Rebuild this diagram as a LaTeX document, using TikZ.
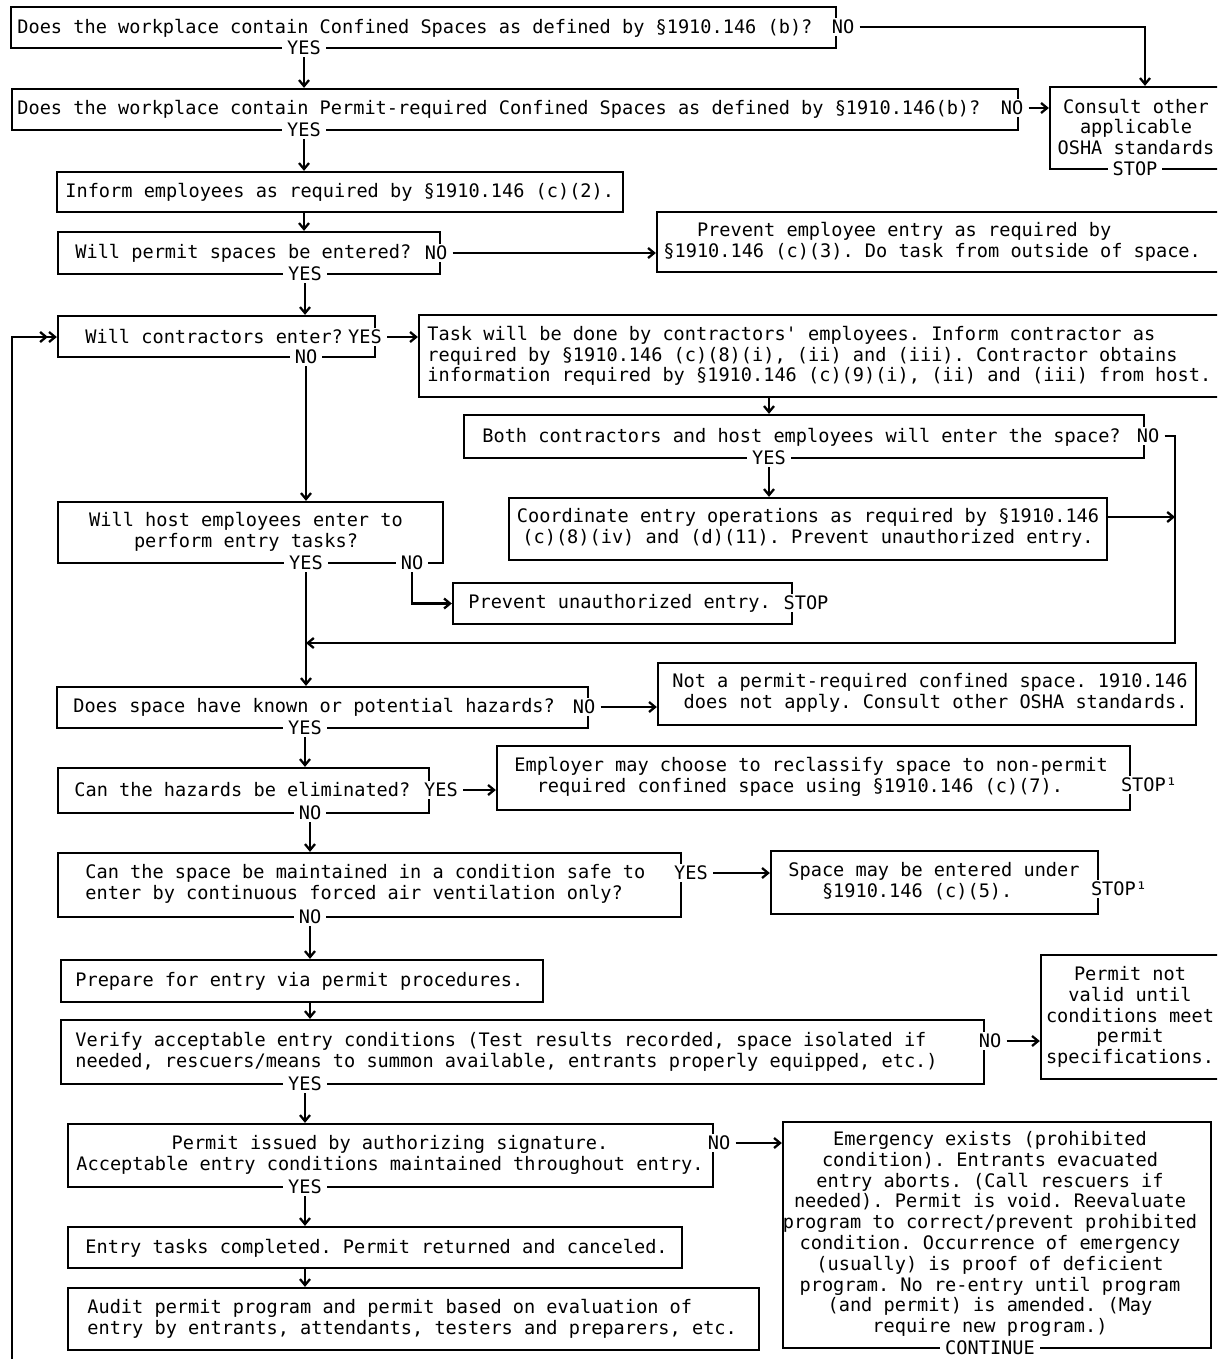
\documentclass[tikz,border=0pt]{standalone}
\usepackage{fontspec}
\newfontfamily\monofnt{DejaVu Sans Mono}
\usetikzlibrary{fit,arrows.meta}
\definecolor{paper}{RGB}{255,255,255}
\begin{document}
\frenchspacing
\begin{tikzpicture}[x=0.5pt,y=-0.5pt,
  every node/.style={font=\monofnt\frenchspacing\fontsize{9.3}{10.4}\selectfont},
  box/.style={draw, line width=1.15pt, inner sep=0pt},
  txt/.style={inner sep=0pt, align=left, anchor=west},
  ctxt/.style={inner sep=0pt, align=center},
  lab/.style={fill=paper, inner xsep=2.5pt, inner ysep=1pt},
  arr/.style={line width=1.15pt, -{Straight Barb[length=3pt,width=5pt]}},
  arrtwo/.style={line width=1.15pt, -{Straight Barb[length=3pt,width=5pt]Straight Barb[length=3pt,width=5pt]}},
]
\useasboundingbox (0,0) rectangle (1217,1359);
\fill[paper] (0,0) rectangle (1217,1359);
\clip (0,0) rectangle (1217,1359);

% ---------- boxes ----------
\node[box, fit={(11,7) (836,48)}] (A) {};
\node[box, fit={(12,89) (1018,130)}] (B) {};
\node[box, fit={(1050,87) (1240,169)}] (K) {};
\node[box, fit={(57,172) (623,212)}] (C) {};
\node[box, fit={(58,232) (440,274)}] (D) {};
\node[box, fit={(657,212) (1240,272)}] (E) {};
\node[box, fit={(58,316) (375,357)}] (F) {};
\node[box, fit={(419,315) (1240,397)}] (G) {};
\node[box, fit={(464,415) (1144,458)}] (H) {};
\node[box, fit={(509,498) (1107,560)}] (I) {};
\node[box, fit={(58,502) (443,563)}] (J) {};
\node[box, fit={(453,583) (792,624)}] (Kb) {};
\node[box, fit={(57,687) (588,728)}] (L) {};
\node[box, fit={(658,663) (1196,725)}] (M) {};
\node[box, fit={(58,768) (429,813)}] (N) {};
\node[box, fit={(497,746) (1130,810)}] (O) {};
\node[box, fit={(58,853) (681,917)}] (P) {};
\node[box, fit={(771,851) (1098,914)}] (Q) {};
\node[box, fit={(61,960) (543,1002)}] (R) {};
\node[box, fit={(61,1020) (984,1084)}] (S) {};
\node[box, fit={(1041,955) (1240,1079)}] (T) {};
\node[box, fit={(68,1124) (713,1187)}] (U) {};
\node[box, fit={(783,1122) (1211,1348)}] (V) {};
\node[box, fit={(68,1227) (682,1268)}] (W) {};
\node[box, fit={(68,1288) (759,1350)}] (X) {};

% ---------- texts ----------
\node[txt] (At) at (17,28) {Does the workplace contain Confined Spaces as defined by §1910.146 (b)?};
\node[txt] (Bt) at (17,109) {Does the workplace contain Permit-required Confined Spaces as defined by §1910.146(b)?};
\node[ctxt] (Kt) at (1136,127) {Consult other\\applicable\\OSHA standards};
\node[txt] (Ct) at (65,192) {Inform employees as required by §1910.146 (c)(2).};
\node[txt] (Dt) at (75,253) {Will permit spaces be entered?};
\node[txt] (Et) at (663,242) {\hphantom{xxx}Prevent employee entry as required by\\§1910.146 (c)(3). Do task from outside of space.};
\node[txt] (Ft) at (85,337) {Will contractors enter?};
\node[txt] (Gt) at (427,356) {Task will be done by contractors' employees. Inform contractor as\\required by §1910.146 (c)(8)(i), (ii) and (iii). Contractor obtains\\information required by §1910.146 (c)(9)(i), (ii) and (iii) from host.};
\node[txt] (Ht) at (482,437) {Both contractors and host employees will enter the space?};
\node[ctxt] (It) at (808,528) {Coordinate entry operations as required by §1910.146\\(c)(8)(iv) and (d)(11). Prevent unauthorized entry.};
\node[ctxt] (Jt) at (246,532) {Will host employees enter to\\perform entry tasks?};
\node[txt] (Kbt) at (468,603) {Prevent unauthorized entry.};
\node[txt] (Lt) at (73,707) {Does space have known or potential hazards?};
\node[txt] (Mt) at (672,693) {Not a permit-required confined space. 1910.146\\\hphantom{x}does not apply. Consult other OSHA standards.};
\node[txt] (Nt) at (74,790) {Can the hazards be eliminated?};
\node[txt] (Ot) at (514,777) {Employer may choose to reclassify space to non-permit\\\hphantom{xx}required confined space using §1910.146 (c)(7).};
\node[txt] (Pt) at (85,884) {Can the space be maintained in a condition safe to\\enter by continuous forced air ventilation only?};
\node[txt] (Qt) at (788,881) {Space may be entered under\\\hphantom{xxx}§1910.146 (c)(5).};
\node[txt] (Rt) at (75,981) {Prepare for entry via permit procedures.};
\node[txt] (St) at (75,1052) {Verify acceptable entry conditions (Test results recorded, space isolated if\\needed, rescuers/means to summon available, entrants properly equipped, etc.)};
\node[ctxt] (Tt) at (1130,1017) {Permit not\\valid until\\conditions meet\\permit\\specifications.};
\node[ctxt] (Ut) at (390,1155) {Permit issued by authorizing signature.\\Acceptable entry conditions maintained throughout entry.};
\node[ctxt] (Vt) at (990,1234) {Emergency exists (prohibited\\condition). Entrants evacuated\\entry aborts. (Call rescuers if\\needed). Permit is void. Reevaluate\\program to correct/prevent prohibited\\condition. Occurrence of emergency\\(usually) is proof of deficient\\program. No re-entry until program\\(and permit) is amended. (May\\require new program.)};
\node[txt] (Wt) at (85,1248) {Entry tasks completed. Permit returned and canceled.};
\node[txt] (Xt) at (87,1319) {Audit permit program and permit based on evaluation of\\entry by entrants, attendants, testers and preparers, etc.};

% ---------- labels on borders ----------
\node[lab] (Ay) at (304,48) {YES};
\node[lab] (An) at (843,27) {NO};
\node[lab] (By) at (304,130) {YES};
\node[lab] (Bn) at (1012,108) {NO};
\node[lab] (Ks) at (1135,169) {STOP};
\node[lab] (Dy) at (305,274) {YES};
\node[lab] (Dn) at (436,253) {NO};
\node[lab] (Fy) at (365,337) {YES};
\node[lab] (Fn) at (306,357) {NO};
\node[lab] (Hy) at (769,458) {YES};
\node[lab] (Hn) at (1148,436) {NO};
\node[lab] (Jy) at (306,563) {YES};
\node[lab] (Jn) at (412,563) {NO};
\node[lab] (Kbs) at (806,603) {STOP};
\node[lab] (Ly) at (305,728) {YES};
\node[lab] (Ln) at (584,707) {NO};
\node[lab] (Ny) at (441,790) {YES};
\node[lab] (Nn) at (310,813) {NO};
\node[lab] (Os) at (1149,785) {STOP¹};
\node[lab] (Py) at (691,873) {YES};
\node[lab] (Pn) at (310,917) {NO};
\node[lab] (Qs) at (1119,889) {STOP¹};
\node[lab] (Sy) at (305,1084) {YES};
\node[lab] (Sn) at (990,1041) {NO};
\node[lab] (Uy) at (305,1187) {YES};
\node[lab] (Un) at (719,1143) {NO};
\node[lab] (Vc) at (990,1348) {CONTINUE};

% ---------- helper coordinates ----------
\coordinate (hr) at (1175,436);
\coordinate (hb) at (1175,643);
\coordinate (ir) at (1175,517);
\coordinate (lpb) at (12,1370);
\coordinate (lpt) at (12,337);

% ---------- connectors ----------
\draw[arr] (Ay.south) -- (Ay.south |- B.north);
\draw[arr] (An.east) -- (An.east -| K.north) -- (K.north);
\draw[arr] (By.south) -- (By.south |- C.north);
\draw[arr] (Bn.east) -- (Bn.east -| K.west);
\draw[arr] (By |- C.south) -- (By |- D.north);
\draw[arr] (Dy.south) -- (Dy.south |- F.north);
\draw[arr] (Dn.east) -- (Dn.east -| E.west);
\draw[arr] (Fy.east) -- (Fy.east -| G.west);
\draw[arr] (Fn.south) -- (Fn.south |- J.north);
\draw[arr] (Hy |- G.south) -- (Hy |- H.north);
\draw[arr] (Hy.south) -- (Hy.south |- I.north);
\draw[arr] (Hn.east) -- (hr) -- (hb) -- (hb -| Jy);
\draw[arr] (ir -| I.east) -- (ir);
\draw[arr] (Jy.south) -- (Jy.south |- L.north);
\draw[arr] (Jn.south) -- (Jn.south |- Kb.west) -- (Kb.west);
\draw[arr] (Ly.south) -- (Ly.south |- N.north);
\draw[arr] (Ln.east) -- (Ln.east -| M.west);
\draw[arr] (Ny.east) -- (Ny.east -| O.west);
\draw[arr] (Nn.south) -- (Nn.south |- P.north);
\draw[arr] (Py.east) -- (Py.east -| Q.west);
\draw[arr] (Pn.south) -- (Pn.south |- R.north);
\draw[arr] (Pn |- R.south) -- (Pn |- S.north);
\draw[arr] (Sy.south) -- (Sy.south |- U.north);
\draw[arr] (Sn.east) -- (Sn.east -| T.west);
\draw[arr] (Uy.south) -- (Uy.south |- W.north);
\draw[arr] (Un.east) -- (Un.east -| V.west);
\draw[arr] (Uy |- W.south) -- (Uy |- X.north);
\draw[arrtwo] (lpb) -- (lpt) -- (lpt -| F.west);
\end{tikzpicture}
\end{document}
